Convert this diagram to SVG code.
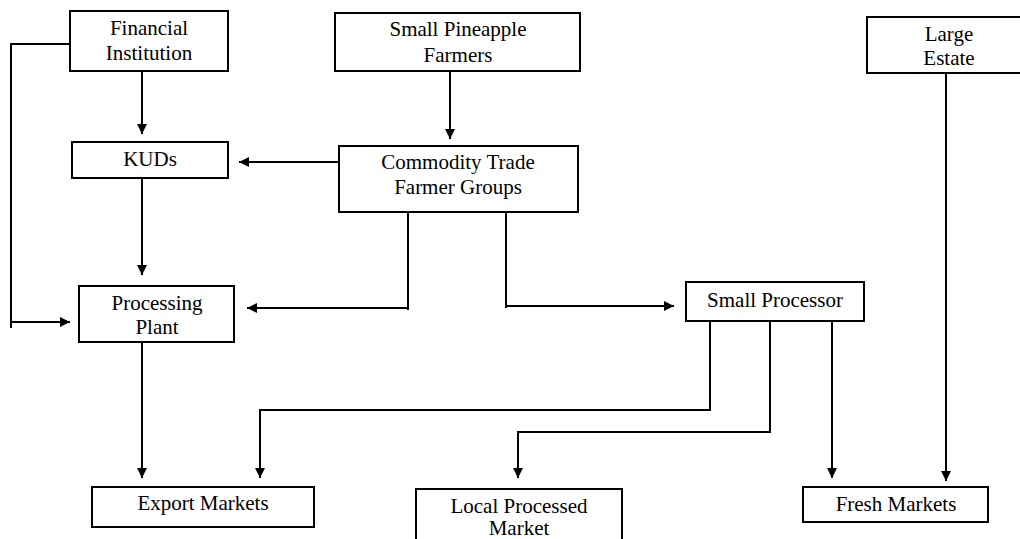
<svg xmlns="http://www.w3.org/2000/svg" width="1020" height="539" viewBox="0 0 1020 539">
  <style>
    .box { fill: #fff; stroke: #000; stroke-width: 2; }
    .lbl { font-family: 'Liberation Serif', Tinos, 'DejaVu Serif', serif; font-size: 21px; fill: #000; text-anchor: middle; }
    .wire { fill: none; stroke: #000; stroke-width: 2; }
    .arrow { marker-end: url(#head); }
  </style>
  <defs>
    <marker id="head" viewBox="0 0 10 10" refX="10" refY="5" markerWidth="10" markerHeight="10" markerUnits="userSpaceOnUse" orient="auto">
      <path d="M0,0 L10,5 L0,10 Z" fill="#000"/>
    </marker>
  </defs>

  <rect width="1020" height="539" fill="#fff"/>

  <g id="connectors">
    <!-- Financial Institution side feed to Processing Plant -->
    <polyline class="wire" points="70,44 11,44 11,328"/>
    <line class="wire arrow" x1="11" y1="322" x2="70" y2="322"/>
    <!-- Financial Institution to KUDs -->
    <line class="wire arrow" x1="142" y1="71" x2="142" y2="134"/>
    <!-- KUDs to Processing Plant -->
    <line class="wire arrow" x1="142" y1="178" x2="142" y2="275"/>
    <!-- Small Pineapple Farmers to Commodity Trade Farmer Groups -->
    <line class="wire arrow" x1="450" y1="71" x2="450" y2="139"/>
    <!-- Commodity Trade Farmer Groups to KUDs -->
    <line class="wire arrow" x1="340" y1="162" x2="239" y2="162"/>
    <!-- Commodity Trade Farmer Groups to Processing Plant -->
    <polyline class="wire" points="408,212 408,310"/>
    <line class="wire arrow" x1="408" y1="308" x2="247" y2="308"/>
    <!-- Commodity Trade Farmer Groups to Small Processor -->
    <polyline class="wire" points="506,210 506,308"/>
    <line class="wire arrow" x1="506" y1="306" x2="674" y2="306"/>
    <!-- Large Estate to Fresh Markets -->
    <line class="wire arrow" x1="946" y1="73" x2="946" y2="481"/>
    <!-- Processing Plant to Export Markets -->
    <line class="wire arrow" x1="142" y1="342" x2="142" y2="478"/>
    <!-- Small Processor to Export Markets -->
    <polyline class="wire arrow" points="710,321 710,410 260,410 260,478"/>
    <!-- Small Processor to Local Processed Market -->
    <polyline class="wire arrow" points="770,321 770,432 518,432 518,478"/>
    <!-- Small Processor to Fresh Markets -->
    <line class="wire arrow" x1="832" y1="321" x2="832" y2="478"/>
  </g>

  <g id="financial-institution">
    <rect class="box" x="70" y="11" width="158" height="60"/>
    <text class="lbl" x="149" y="35">Financial</text>
    <text class="lbl" x="149" y="60">Institution</text>
  </g>

  <g id="small-pineapple-farmers">
    <rect class="box" x="335" y="13" width="245" height="58"/>
    <text class="lbl" x="458" y="36">Small Pineapple</text>
    <text class="lbl" x="458" y="62">Farmers</text>
  </g>

  <g id="large-estate">
    <rect class="box" x="867" y="17" width="164" height="56"/>
    <text class="lbl" x="949" y="41">Large</text>
    <text class="lbl" x="949" y="65">Estate</text>
  </g>

  <g id="kuds">
    <rect class="box" x="72" y="142" width="156" height="36"/>
    <text class="lbl" x="150" y="166">KUDs</text>
  </g>

  <g id="commodity-trade-farmer-groups">
    <rect class="box" x="339" y="146" width="239" height="66"/>
    <text class="lbl" x="458" y="169">Commodity Trade</text>
    <text class="lbl" x="458" y="194">Farmer Groups</text>
  </g>

  <g id="processing-plant">
    <rect class="box" x="79" y="286" width="155" height="56"/>
    <text class="lbl" x="157" y="310">Processing</text>
    <text class="lbl" x="157" y="334">Plant</text>
  </g>

  <g id="small-processor">
    <rect class="box" x="686" y="282" width="178" height="39"/>
    <text class="lbl" x="775" y="307">Small Processor</text>
  </g>

  <g id="export-markets">
    <rect class="box" x="92" y="487" width="222" height="40"/>
    <text class="lbl" x="203" y="510">Export Markets</text>
  </g>

  <g id="local-processed-market">
    <rect class="box" x="416" y="489" width="206" height="60"/>
    <text class="lbl" x="519" y="513">Local Processed</text>
    <text class="lbl" x="519" y="535">Market</text>
  </g>

  <g id="fresh-markets">
    <rect class="box" x="803" y="487" width="185" height="35"/>
    <text class="lbl" x="896" y="511">Fresh Markets</text>
  </g>
</svg>
